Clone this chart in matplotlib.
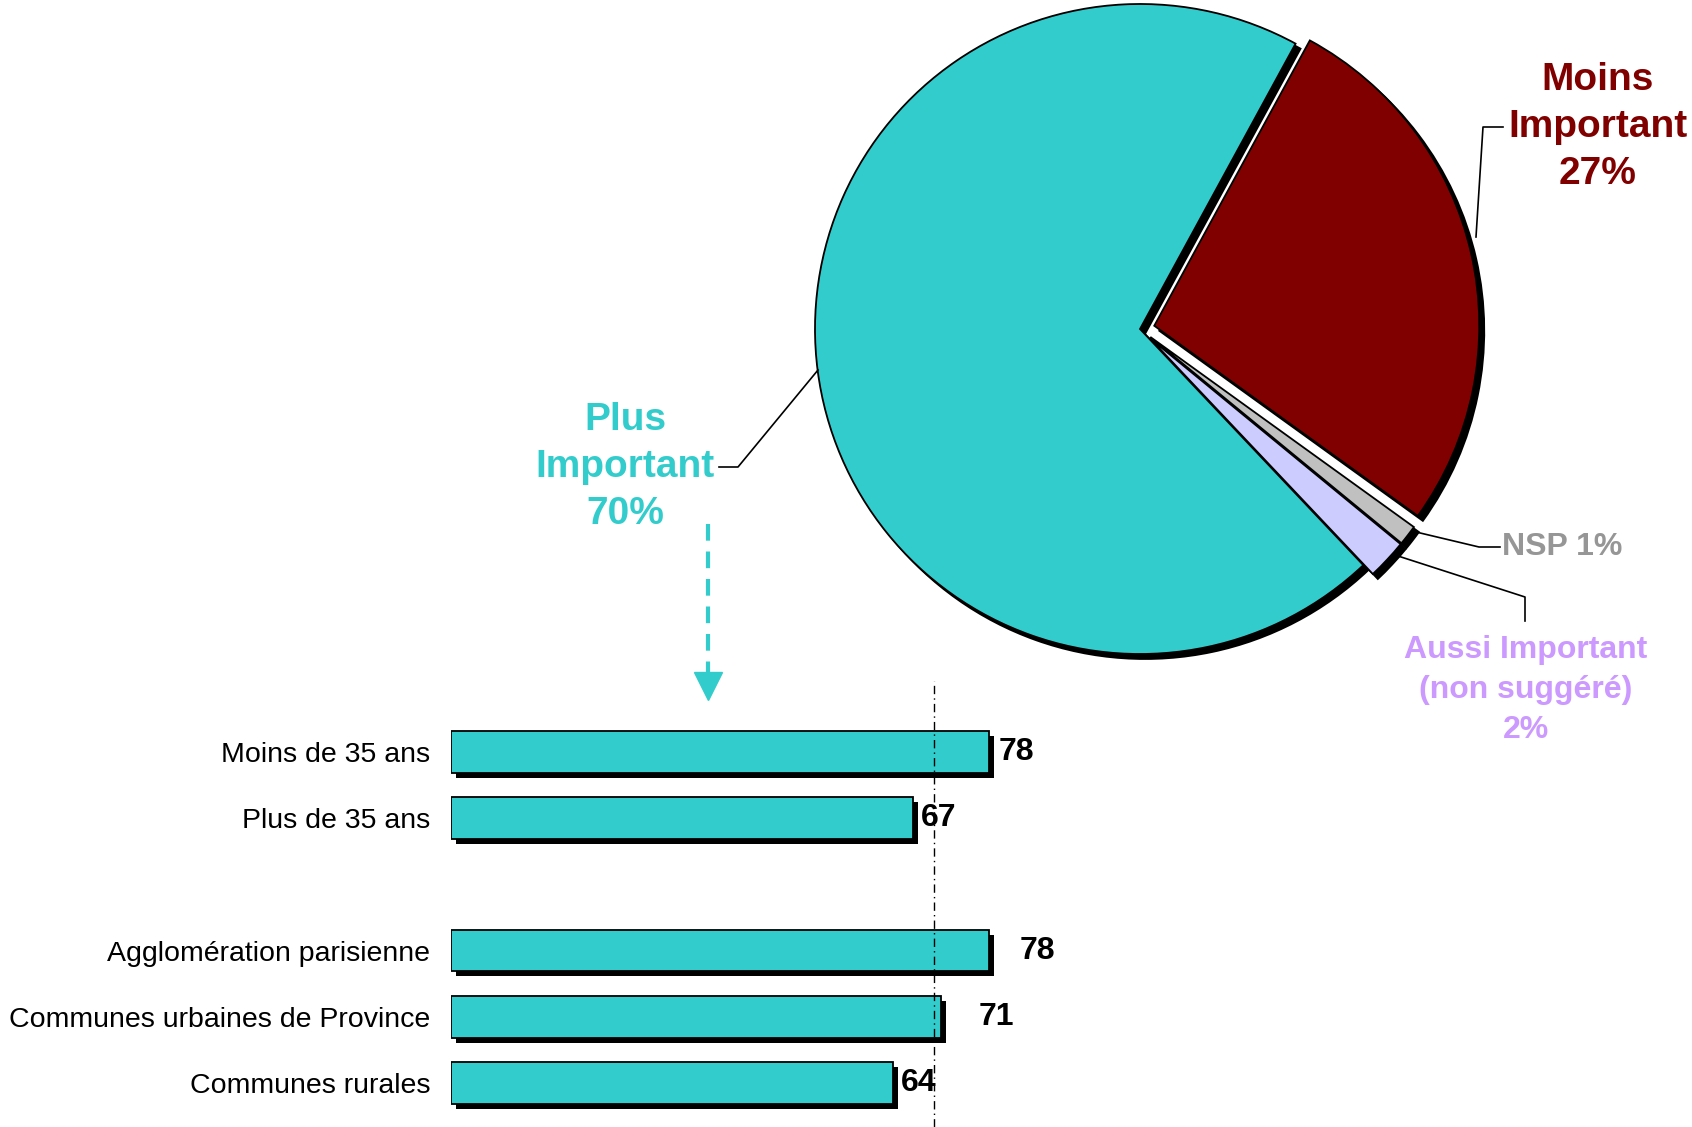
import matplotlib.pyplot as plt
from matplotlib import transforms

plt.rcParams['font.family'] = ['Liberation Sans', 'DejaVu Sans']

# pie data
pie_labels = ['Moins\nImportant\n27%', 'NSP 1%', 'Aussi Important\n(non suggéré)\n2%', 'Plus\nImportant\n70%']
pie_values = [27, 1, 2, 70]
pie_colors = ['#800000', '#C0C0C0', '#CCCCFF', '#33CCCC']
text_colors = ['#800000', '#969696', '#CC99FF', '#33CCCC']

# bar data (share saying "Plus Important" by sub-group)
categories = ['Moins de 35 ans', 'Plus de 35 ans',
              'Agglomération parisienne', 'Communes urbaines de Province', 'Communes rurales']
groups = [0, 0, 1, 1, 1]
bar_values = [78, 67, 78, 71, 64]
overall = 70

W, H = 1692, 1127
R = 325.0  # pie radius in pixels

fig = plt.figure(figsize=(W / 100, H / 100), dpi=100)

# ---- pie ----
cx, cy = 1140, 329
half = 450
pax = fig.add_axes([(cx - half) / W, (H - cy - half) / H, 2 * half / W, 2 * half / H])
pax.set_facecolor('none')
explode = [0.045, 0.04, 0.04, 0]
common = dict(startangle=61.4, counterclock=False, radius=1, explode=explode)
# shadow
pax.pie(pie_values, colors=['black'] * 4, center=(5 / R, -5 / R),
        wedgeprops=dict(edgecolor='black', linewidth=1.3), **common)
pax.pie(pie_values, colors=pie_colors,
        wedgeprops=dict(edgecolor='black', linewidth=1.3), **common)
pax.set_xlim(-half / R, half / R)
pax.set_ylim(-half / R, half / R)
pax.set_aspect('equal')
pax.axis('off')


def p(x, y):
    return x / R, y / R


# labels with leader lines (pixel offsets from pie centre, y up)
label_pos = [(458, 202, 'center', 28, 1.4), (362, -218, 'left', 23, 1.2),
             (386, -361, 'center', 23, 1.45), (-515, -138, 'center', 28, 1.4)]
leaders = [[(336, 92), (343, 202), (363, 202)],
           [(276, -203), (339, -218), (360, -218)],
           [(258, -227), (385, -268), (385, -292)],
           [(-322, -41), (-402, -138), (-421, -138)]]
for lab, col, (lx, ly, ha, fs, ls), pts in zip(pie_labels, text_colors, label_pos, leaders):
    xs = [p(*q)[0] for q in pts]
    ys = [p(*q)[1] for q in pts]
    pax.plot(xs, ys, color='black', lw=1.2, clip_on=False)
    pax.text(*p(lx, ly), lab, color=col, ha=ha, va='center', fontsize=fs,
             fontweight='bold', linespacing=ls, clip_on=False)

# dashed arrow from "Plus Important" to the bars
ax_x = 708 - cx
pax.plot([ax_x / R, ax_x / R], [(cy - 524) / R, (cy - 680) / R], color='#33CCCC',
         lw=3, dashes=(4, 2.6), clip_on=False)
pax.plot([ax_x / R], [(cy - 686) / R], marker='v', color='#33CCCC', markersize=20,
         clip_on=False)

# ---- bars ----
px_per_unit = 6.9
pitch = 66.2
row0 = 752
bx0 = 451
y_top, y_bot = 681, H
bax = fig.add_axes([bx0 / W, (H - y_bot) / H, 100 * px_per_unit / W, (y_bot - y_top) / H])
bax.set_xlim(0, 100)
bax.set_ylim((y_bot - row0) / pitch, (y_top - row0) / pitch)

pos = [i + g for i, g in enumerate(groups)]
shadow = transforms.offset_copy(bax.transData, fig=fig, x=5, y=-5, units='dots')
bax.barh(pos, bar_values, height=0.63, color='black', transform=shadow, zorder=1)
bax.barh(pos, bar_values, height=0.63, color='#33CCCC', edgecolor='black', linewidth=1.3, zorder=2)
bax.axvline(overall, color='black', lw=1, linestyle=(0, (6, 3, 1, 3)), zorder=4)

label_pad = [7, 5.5, 22, 27, 6]
for y, v, pad in zip(pos, bar_values, label_pad):
    bax.annotate(str(v), (v, y), xytext=(pad, 0), textcoords='offset points',
                 ha='left', va='center', fontsize=23, fontweight='bold', zorder=5)

bax.set_yticks(pos)
bax.set_yticklabels(categories, fontsize=20.5)
bax.tick_params(axis='y', length=0, pad=15)
bax.set_xticks([])
for s in bax.spines.values():
    s.set_visible(False)
bax.set_facecolor('none')

fig.savefig('out.png', dpi=100)
